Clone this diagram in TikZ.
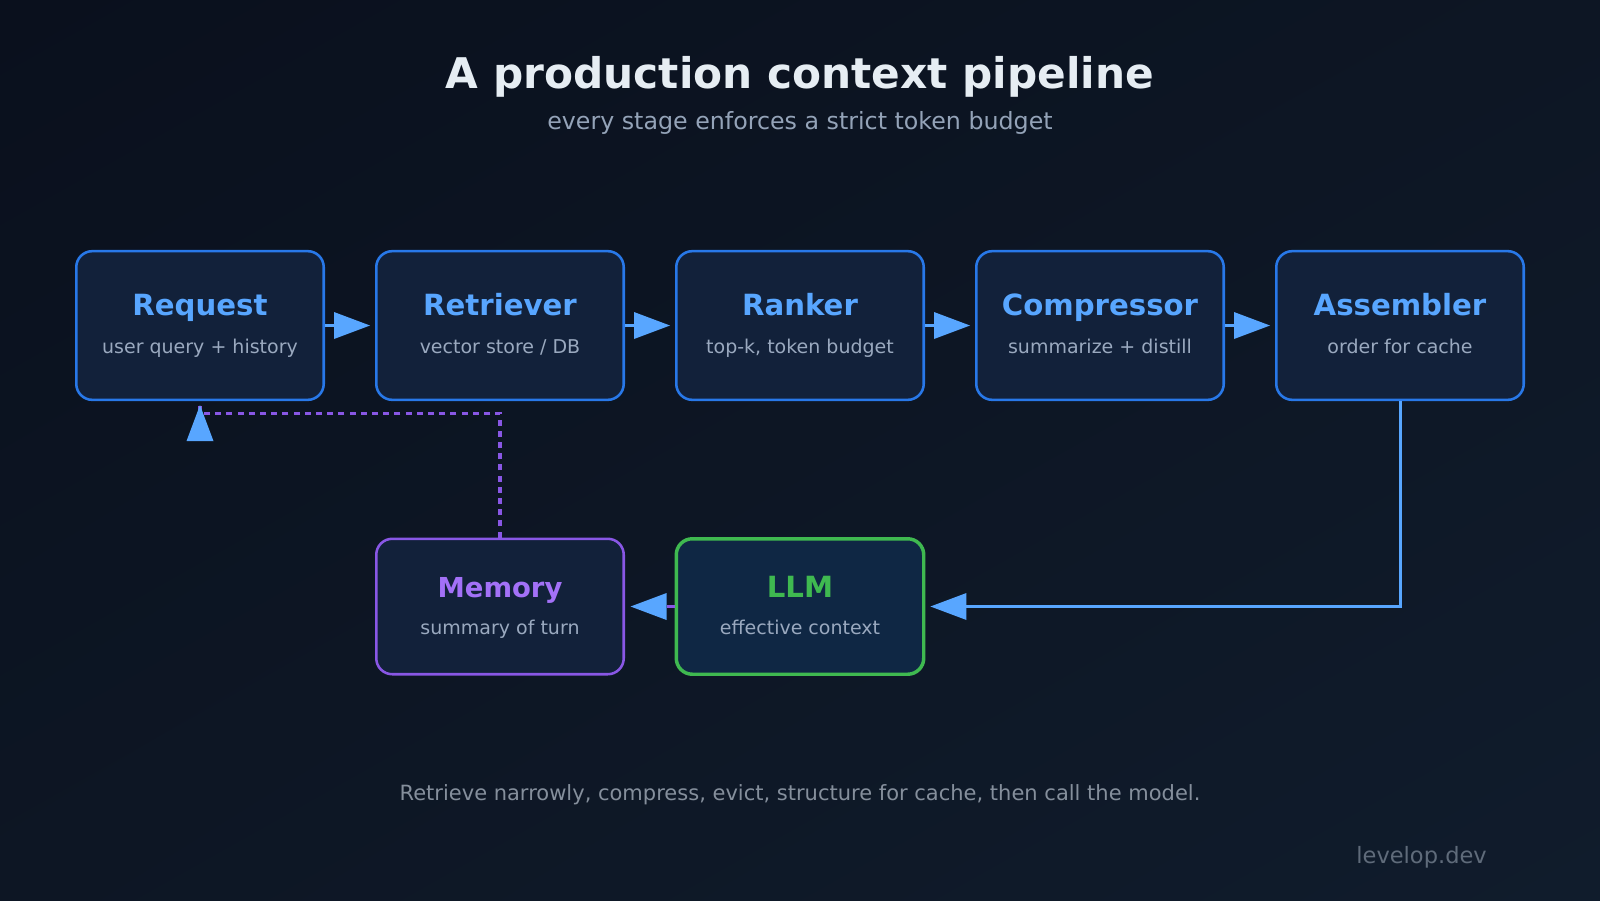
\documentclass[tikz,border=0pt]{standalone}
\usepackage{fontspec}
\setmainfont{DejaVu Sans}
\usetikzlibrary{arrows.meta,calc,shadings}
\definecolor{bgA}{HTML}{0A101D}
\definecolor{bgM}{HTML}{0D1624}
\definecolor{bgB}{HTML}{101C2C}
\definecolor{boxfill}{HTML}{12213A}
\definecolor{llmfill}{HTML}{0F2744}
\definecolor{boxblue}{HTML}{2878E8}
\definecolor{ttlblue}{HTML}{58A6FF}
\definecolor{arrowblue}{HTML}{58A6FF}
\definecolor{subgray}{HTML}{9AA9BF}
\definecolor{memline}{HTML}{8957E5}
\definecolor{memtext}{HTML}{A371F7}
\definecolor{llmgreen}{HTML}{3FB950}
\definecolor{titlewhite}{HTML}{E6EDF3}
\definecolor{subtitlegray}{HTML}{94A3B8}
\definecolor{footgray}{HTML}{858F9C}
\definecolor{brandgray}{HTML}{5F6B7A}
\begin{document}
\begin{tikzpicture}[x=0.75pt,y=-0.75pt,
  stage/.style={draw=boxblue, fill=boxfill, line width=1.9pt, rounded corners=12pt,
    minimum width=185.6pt, minimum height=111.5pt, inner sep=0pt},
  lowstage/.style={stage, minimum height=101.6pt},
  ttl/.style={anchor=base, text=ttlblue, font=\bfseries\fontsize{21.9}{26}\selectfont},
  sub/.style={anchor=base, text=subgray, font=\fontsize{14.25}{17}\selectfont},
  flow/.style={draw=arrowblue, line width=2.25pt,
    -{Triangle[length=27pt,width=20.25pt,line width=0pt]}, shorten >=3.75pt},
  dashline/.style={draw=memline, line width=2.3pt, dash pattern=on 4.5pt off 3.9pt}
]
\shade[upper left=bgA, lower right=bgB, upper right=bgM, lower left=bgM] (0,0) rectangle (1600,900);
\useasboundingbox (0,0) rectangle (1600,900);

% title
\node[anchor=base, text=titlewhite, font=\bfseries\fontsize{31.7}{36}\selectfont] (title) at (800,88) {A production context pipeline};
\node[anchor=base, text=subtitlegray, font=\fontsize{17.8}{21}\selectfont] (subtitle) at (800,129) {every stage enforces a strict token budget};

% top row
\node[stage] (req) at (200,325.5) {};
\node[stage] (ret) at (500,325.5) {};
\node[stage] (rank) at (800,325.5) {};
\node[stage] (comp) at (1100,325.5) {};
\node[stage] (asm) at (1400,325.5) {};

\node[ttl] (reqT) at ($(req.center)+(0,-10.5)$) {Request};
\node[sub] (reqS) at ($(req.center)+(0,27.5)$) {user query + history};
\node[ttl] (retT) at ($(ret.center)+(0,-10.5)$) {Retriever};
\node[sub] (retS) at ($(ret.center)+(0,27.5)$) {vector store / DB};
\node[ttl] (rankT) at ($(rank.center)+(0,-10.5)$) {Ranker};
\node[sub] (rankS) at ($(rank.center)+(0,27.5)$) {top-k, token budget};
\node[ttl] (compT) at ($(comp.center)+(0,-10.5)$) {Compressor};
\node[sub] (compS) at ($(comp.center)+(0,27.5)$) {summarize + distill};
\node[ttl] (asmT) at ($(asm.center)+(0,-10.5)$) {Assembler};
\node[sub] (asmS) at ($(asm.center)+(0,27.5)$) {order for cache};

% bottom row
\node[lowstage, draw=memline] (mem) at (500,606.5) {};
\node[lowstage, draw=llmgreen, fill=llmfill, line width=2.6pt] (llm) at (800,606.5) {};

\node[ttl, text=memtext, font=\bfseries\fontsize{20.6}{24}\selectfont] (memT) at ($(mem.center)+(0,-9)$) {Memory};
\node[sub] (memS) at ($(mem.center)+(0,27.5)$) {summary of turn};
\node[ttl, text=llmgreen] (llmT) at ($(llm.center)+(0,-9)$) {LLM};
\node[sub] (llmS) at ($(llm.center)+(0,27.5)$) {effective context};

% connectors
\draw[flow] (req.east) -- (ret.west);
\draw[flow] (ret.east) -- (rank.west);
\draw[flow] (rank.east) -- (comp.west);
\draw[flow] (comp.east) -- (asm.west);
\draw[flow] (asm.south) |- (llm.east);
\draw[flow, draw=memline, -{Triangle[length=27pt,width=20.25pt,line width=0pt,color=arrowblue]}, shorten >=4.2pt] (llm.west) -- (mem.east);

\coordinate (fbtip) at ($(req.south)+(0,4)$);
\coordinate (fbturn) at ($(req.south)+(0,12)$);
\draw[dashline] (mem.north) |- (fbturn) -- (fbtip);
\fill[arrowblue] (fbtip) -- ++(-13.5,36) -- ++(27,0) -- cycle;

% footer
\node[anchor=base, text=footgray, font=\fontsize{15.75}{19}\selectfont] (foot) at (800,800.5) {Retrieve narrowly, compress, evict, structure for cache, then call the model.};
\node[anchor=base east, inner sep=0pt, text=brandgray, font=\fontsize{16.9}{20}\selectfont] (brand) at (1487,863) {levelop.dev};
\end{tikzpicture}
\end{document}
